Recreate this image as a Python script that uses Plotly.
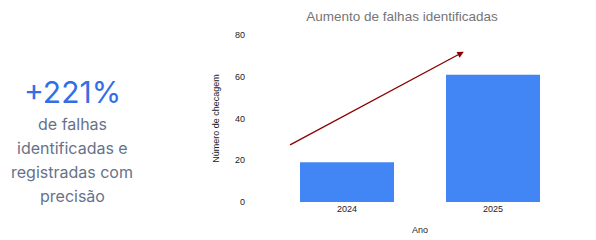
import plotly.graph_objects as go

# ---- data ----
years = ["2024", "2025"]
checks = [19, 61]
y_ticks = [0, 20, 40, 60, 80]
title_text = "Aumento de falhas identificadas"
x_title = "Ano"
y_title = "Número de checagem"
kpi_value = "+221%"
kpi_lines = ["de falhas", "identificadas e", "registradas com", "precisão"]
arrow_start = (-0.4, 27)
arrow_end = (0.8, 72)

# ---- layout geometry (pixels) ----
W, H = 596, 240
L, R, T, B = 274, 30, 35, 38
PW, PH = W - L - R, H - T - B


def px_x(px):
    return (px - L) / PW


def px_y(py):
    return (H - B - py) / PH


CHART_FONT = "Liberation Sans, Arial, sans-serif"
KPI_FONT = "Inter, sans-serif"
AX_SIZE = 9

fig = go.Figure()
fig.add_trace(go.Bar(
    x=years, y=checks,
    marker=dict(color="#4285F4", line=dict(width=0)),
    width=0.644,
    hoverinfo="skip",
))

annotations = [
    dict(
        x=arrow_end[0], y=arrow_end[1], ax=arrow_start[0], ay=arrow_start[1],
        xref="x", yref="y", axref="x", ayref="y",
        showarrow=True, arrowhead=2, arrowsize=1, arrowwidth=1.3,
        arrowcolor="#8B0000", text="",
    ),
    dict(
        x=px_x(72), y=px_y(92), xref="paper", yref="paper",
        text=kpi_value, showarrow=False, xanchor="center", yanchor="middle",
        font=dict(family=KPI_FONT, size=30, color="#346EE6"),
    ),
]
line_y = [124, 148, 172, 196]
for txt, py in zip(kpi_lines, line_y):
    annotations.append(dict(
        x=px_x(72), y=px_y(py), xref="paper", yref="paper",
        text=txt, showarrow=False, xanchor="center", yanchor="middle",
        font=dict(family=KPI_FONT, size=16, color="#66728A"),
    ))

fig.update_layout(
    width=W, height=H,
    margin=dict(l=L, r=R, t=T, b=B, pad=0, autoexpand=False),
    paper_bgcolor="white", plot_bgcolor="white",
    showlegend=False,
    bargap=0.356,
    title=dict(
        text=title_text, xref="container", yref="container",
        x=402 / W, y=1 - 16 / H, xanchor="center", yanchor="middle",
        font=dict(family=CHART_FONT, size=13.5, color="#757575"),
    ),
    xaxis=dict(
        type="category", range=[-0.5, 1.5], automargin=False,
        showgrid=False, zeroline=False, showline=False, ticks="",
        tickfont=dict(family=CHART_FONT, size=AX_SIZE, color="#222222"),
        title=dict(text=x_title, standoff=13,
                   font=dict(family=CHART_FONT, size=AX_SIZE, color="#222222")),
        fixedrange=True,
    ),
    yaxis=dict(
        range=[0, 80], tickvals=y_ticks, automargin=False,
        showgrid=False, zeroline=False, showline=False, ticks="",
        ticklabelstandoff=28,
        tickfont=dict(family=CHART_FONT, size=AX_SIZE, color="#222222"),
        title=dict(text=y_title, standoff=13,
                   font=dict(family=CHART_FONT, size=AX_SIZE, color="#222222")),
        fixedrange=True,
    ),
    annotations=annotations,
)

fig.write_html("out.html", config={"displayModeBar": False})
